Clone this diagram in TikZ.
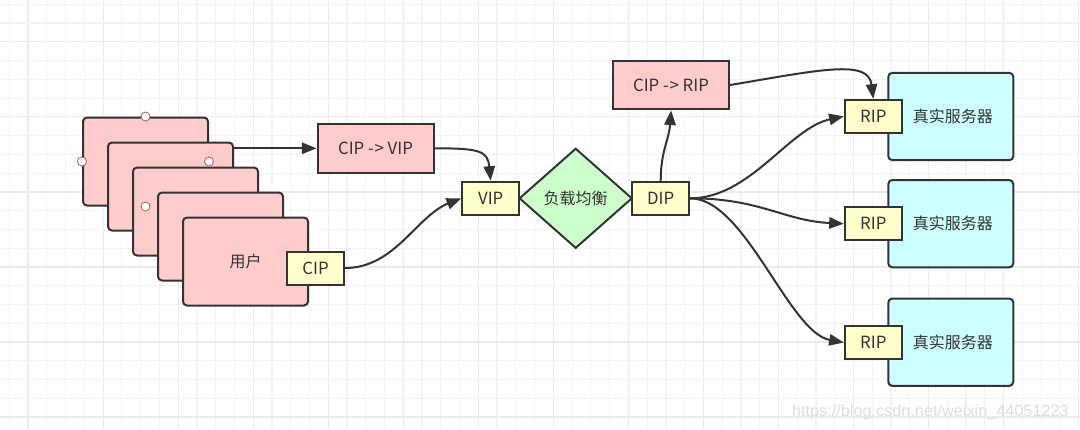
\documentclass[tikz,border=0pt]{standalone}
\usepackage{fontspec}
\setmainfont{Noto Sans CJK SC}
\newfontfamily\wmfont{Liberation Sans}
\usetikzlibrary{shapes.geometric,arrows.meta,calc}
\definecolor{ln}{HTML}{333333}
\definecolor{pinkf}{HTML}{FFCCCC}
\definecolor{yelf}{HTML}{FFFFCC}
\definecolor{greenf}{HTML}{CCFFCC}
\definecolor{cyanf}{HTML}{CCFFFF}
\definecolor{hred}{HTML}{B85450}
\definecolor{gminor}{HTML}{F3F3F3}
\definecolor{gmajor}{HTML}{EBEBEB}
\begin{document}
\begin{tikzpicture}[x=0.75pt,y=-0.75pt,
  box/.style={draw=ln, line width=1.5pt, inner sep=0pt, text=ln, font=\fontsize{12}{14}\selectfont},
  lat/.style={font=\fontsize{12.6}{14}\selectfont},
  card/.style={box, fill=pinkf, rounded corners=3pt, minimum width=93.75pt, minimum height=66pt},
  port/.style={box, lat, fill=yelf, minimum width=42.75pt, minimum height=24.75pt},
  msg/.style={box, lat, fill=pinkf, minimum width=87pt, minimum height=36.5pt},
  server/.style={box, fill=cyanf, rounded corners=3pt, minimum width=93.75pt, minimum height=65.5pt},
  lb/.style={box, diamond, fill=greenf, minimum width=84.75pt, minimum height=75pt},
  conn/.style={draw=ln, line width=1.5pt, -{Triangle[length=11pt,width=8.5pt]}},
  handle/.style={circle, draw=hred, fill=white, line width=0.6pt, minimum size=6.8pt, inner sep=0pt}
]
\useasboundingbox (0,0) rectangle (1080,429);
\fill[white] (0,0) rectangle (1080,429);
% grid
\foreach \k in {0,...,57}{
  \pgfmathsetmacro\gx{9.3+18.76*\k}
  \pgfmathtruncatemacro\mm{mod(\k,4)}
  \ifnum\mm=1 \draw[gmajor, line width=0.9pt] (\gx,0) -- (\gx,429);
  \else \draw[gminor, line width=0.9pt] (\gx,0) -- (\gx,429); \fi
}
\foreach \k in {0,...,22}{
  \pgfmathsetmacro\gy{4.3+18.76*\k}
  \pgfmathtruncatemacro\mm{mod(\k,4)}
  \ifnum\mm=2 \draw[gmajor, line width=0.9pt] (0,\gy) -- (1080,\gy);
  \else \draw[gminor, line width=0.9pt] (0,\gy) -- (1080,\gy); \fi
}
% user cards
\node[card] (c1) at (145.5,161.5) {};
\node[card] (c2) at (170.5,186.5) {};
\node[card] (c3) at (195.5,211.5) {};
\node[card] (c4) at (220.5,236.5) {};
\node[card] (c5) at (245.5,261.5) {用户};
\node[port] (cip) at (315.5,268) {CIP};
% handles
\node[handle] (h1) at (c1.north) {};
\node[handle] (h2) at (c1.west) {};
\node[handle] (h3) at (c1.east) {};
\node[handle] (h4) at (c1.south) {};
% messages
\node[msg] (cv) at (375.5,148.3) {CIP -\kern0.5pt> VIP};
\node[msg] (cr) at (671,85) {CIP -\kern0.5pt> RIP};
% load balancer
\node[lb, label={[text=ln, font=\fontsize{12}{14}\selectfont]center:负载均衡}] (lbal) at (575.7,198.3) {};
\node[port] (vip) at (490.7,198.3) {VIP};
\node[port] (dip) at (660.7,198.3) {DIP};
% servers
\node[server] (s1) at (950.8,116.5) {\hspace*{3pt}真实服务器};
\node[server] (s2) at (950.8,223.7) {\hspace*{3pt}真实服务器};
\node[server] (s3) at (950.8,342.2) {\hspace*{3pt}真实服务器};
\node[port] (r1) at (873.3,116.3) {RIP};
\node[port] (r2) at (873.3,223.7) {RIP};
\node[port] (r3) at (873.3,342.5) {RIP};
% connectors
\draw[conn] (c2.east |- cv.west) -- (cv.west);
\draw[conn] (cip.east) .. controls +(50,0) and +(-45,18) .. (vip.west);
\draw[conn] (cv.east) .. controls +(45,0) and +(-3,-30) .. (vip.north);
\draw[conn] (dip.north) .. controls +(0,-30) and +(-2,30) .. (cr.south);
\draw[conn] (cr.east) .. controls +(90,-15) and +(-5,-40) .. (r1.north);
\draw[conn] (dip.east) .. controls +(60,0) and +(-55,12) .. (r1.west);
\draw[conn] (dip.east) .. controls +(70,0) and +(-60,-3) .. (r2.west);
\draw[conn] (dip.east) .. controls +(55,0) and +(-55,-10) .. (r3.west);
% watermark
\node[anchor=east, text=black!13, font=\wmfont\fontsize{12.2}{14}\selectfont, inner sep=0pt] (wm) at (1069,412) {https://blog.csdn.net/weixin\_44051223};
\end{tikzpicture}
\end{document}
